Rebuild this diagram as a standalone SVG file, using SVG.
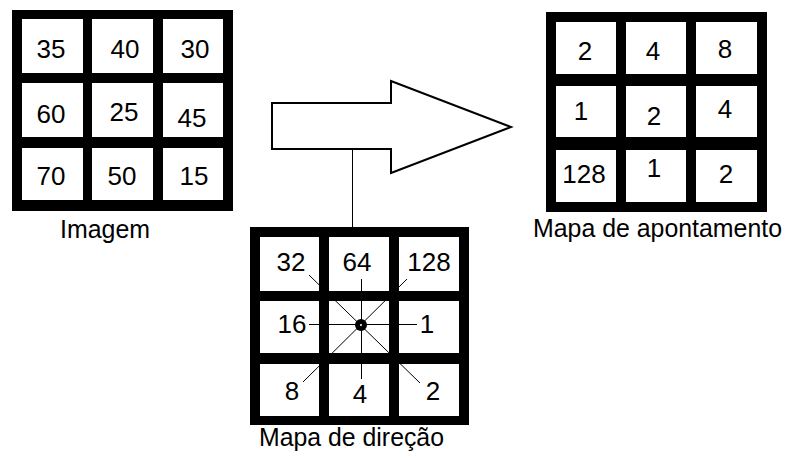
<svg xmlns="http://www.w3.org/2000/svg" width="793" height="459" viewBox="0 0 793 459">
  <style>
    .frame { fill: #000; }
    .cell { fill: #fff; }
    .num { font-family: "Liberation Sans", Arial, sans-serif; font-size: 26px; fill: #000; text-anchor: middle; }
    .label { font-family: "Liberation Sans", Arial, sans-serif; font-size: 26px; fill: #000; }
    .thin { stroke: #000; stroke-width: 1; fill: none; }
    .outline { stroke: #000; stroke-width: 2; fill: #fff; }
  </style>
  <rect width="793" height="459" fill="#fff"/>

  <!-- Image grid -->
  <g id="imagem">
    <rect class="frame" x="12" y="10" width="221" height="201"/>
    <rect class="cell" x="22" y="19" width="61" height="54"/>
    <rect class="cell" x="92" y="19" width="61" height="54"/>
    <rect class="cell" x="163" y="19" width="60" height="54"/>
    <rect class="cell" x="22" y="83" width="61" height="54"/>
    <rect class="cell" x="92" y="83" width="61" height="54"/>
    <rect class="cell" x="163" y="83" width="60" height="54"/>
    <rect class="cell" x="22" y="148" width="61" height="52"/>
    <rect class="cell" x="92" y="148" width="61" height="52"/>
    <rect class="cell" x="163" y="148" width="60" height="52"/>
    <text class="num" x="51" y="58">35</text>
    <text class="num" x="125" y="58">40</text>
    <text class="num" x="195" y="58">30</text>
    <text class="num" x="51" y="123">60</text>
    <text class="num" x="124" y="121">25</text>
    <text class="num" x="192" y="127">45</text>
    <text class="num" x="51" y="185">70</text>
    <text class="num" x="122" y="185">50</text>
    <text class="num" x="194" y="185">15</text>
    <text class="label" x="60" y="238" textLength="90" lengthAdjust="spacingAndGlyphs">Imagem</text>
  </g>

  <!-- Block arrow -->
  <g id="seta">
    <polygon class="outline" points="272,103 391,103 391,81 511,127 391,173 391,149 272,149"/>
  </g>

  <!-- Direction grid -->
  <g id="direcao">
    <rect class="frame" x="250" y="227" width="219" height="198"/>
    <rect class="cell" x="260" y="237" width="59" height="54"/>
    <rect class="cell" x="329" y="237" width="60" height="54"/>
    <rect class="cell" x="399" y="237" width="60" height="54"/>
    <rect class="cell" x="260" y="301" width="59" height="52"/>
    <rect class="cell" x="329" y="301" width="60" height="52"/>
    <rect class="cell" x="399" y="301" width="60" height="52"/>
    <rect class="cell" x="260" y="364" width="59" height="52"/>
    <rect class="cell" x="329" y="364" width="60" height="52"/>
    <rect class="cell" x="399" y="364" width="60" height="52"/>
    <!-- neighbour rays -->
    <line class="thin" x1="309" y1="324.5" x2="417" y2="324.5"/>
    <line class="thin" x1="361.5" y1="279" x2="361.5" y2="379"/>
    <line class="thin" x1="309" y1="275" x2="420" y2="383"/>
    <line class="thin" x1="407" y1="279" x2="303" y2="382"/>
    <circle cx="361" cy="325" r="6" fill="#000"/>
    <circle cx="361" cy="325" r="1" fill="#fff"/>
    <text class="num" x="291" y="271">32</text>
    <text class="num" x="357" y="271">64</text>
    <text class="num" x="429" y="271">128</text>
    <text class="num" x="292" y="333">16</text>
    <text class="num" x="427" y="333">1</text>
    <text class="num" x="292" y="400">8</text>
    <text class="num" x="360" y="403">4</text>
    <text class="num" x="433" y="400">2</text>
    <text class="label" x="259" y="446" textLength="185" lengthAdjust="spacingAndGlyphs">Mapa de direção</text>
  </g>

  <!-- Pointer map grid -->
  <g id="apontamento">
    <rect class="frame" x="546" y="12" width="221" height="200"/>
    <rect class="cell" x="556" y="22" width="60" height="52"/>
    <rect class="cell" x="626" y="22" width="60" height="52"/>
    <rect class="cell" x="696" y="22" width="61" height="52"/>
    <rect class="cell" x="556" y="86" width="60" height="51"/>
    <rect class="cell" x="626" y="86" width="60" height="51"/>
    <rect class="cell" x="696" y="86" width="61" height="51"/>
    <rect class="cell" x="556" y="150" width="60" height="52"/>
    <rect class="cell" x="626" y="150" width="60" height="52"/>
    <rect class="cell" x="696" y="150" width="61" height="52"/>
    <text class="num" x="585" y="60">2</text>
    <text class="num" x="653" y="60">4</text>
    <text class="num" x="725" y="58">8</text>
    <text class="num" x="581" y="120">1</text>
    <text class="num" x="654" y="125">2</text>
    <text class="num" x="725" y="118">4</text>
    <text class="num" x="584" y="183">128</text>
    <text class="num" x="654" y="177">1</text>
    <text class="num" x="726" y="183">2</text>
    <text class="label" x="533" y="237" textLength="249" lengthAdjust="spacingAndGlyphs">Mapa de apontamento</text>
  </g>

  <!-- Connectors -->
  <g id="conectores">
    <line class="thin" x1="352.5" y1="149" x2="352.5" y2="227" stroke-width="2"/>
  </g>
</svg>
